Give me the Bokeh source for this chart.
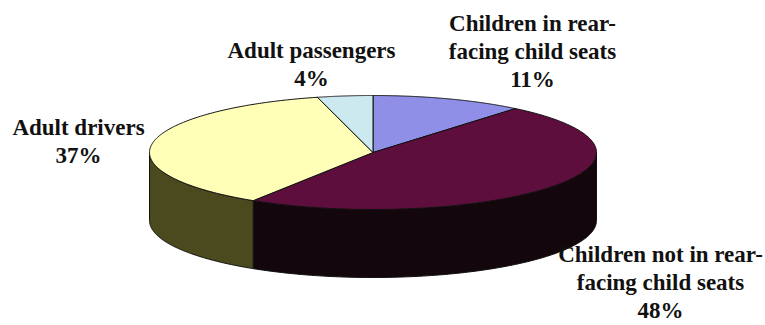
import numpy as np
from bokeh.plotting import figure
from bokeh.models import Range1d
from bokeh.core.properties import value
from bokeh.embed import file_html
from bokeh.resources import INLINE

# ---- data ----
categories = ["Children in rear-\nfacing child seats",
              "Children not in rear-\nfacing child seats",
              "Adult drivers",
              "Adult passengers"]
shares = [11, 48, 37, 4]

# ---- styles ----
top_colors = ["#8F8FE8", "#5E0E3C", "#FFFFB8", "#CCE9EF"]
side_colors = ["#4A4A80", "#14060D", "#4A4A1E", "#6E8A90"]

# ---- layout (pixel space) ----
W, H = 765, 325
cx, cy, ra, rb, depth = 372.5, 152, 223.5, 57, 68
label_anchor = [(532, 23), (660, 254), (78, 127), (311, 50)]
line_step = 28

p = figure(width=W, height=H, output_backend="svg", toolbar_location=None,
           x_range=Range1d(0, W), y_range=Range1d(H, 0), min_border=0)
p.axis.visible = False
p.grid.visible = False
p.outline_line_color = None
p.background_fill_color = "white"


def ellipse_pts(t):
    return cx + ra * np.sin(t), cy - rb * np.cos(t)


fracs = np.array(shares, dtype=float) / sum(shares)
edges = np.concatenate([[0], np.cumsum(fracs)]) * 2 * np.pi

# side walls (front half only)
for i in range(len(shares)):
    t1, t2 = max(edges[i], np.pi / 2), min(edges[i + 1], 3 * np.pi / 2)
    if t2 <= t1:
        continue
    t = np.linspace(t1, t2, 120)
    x, y = ellipse_pts(t)
    xs = np.concatenate([x, x[::-1]])
    ys = np.concatenate([y, (y + depth)[::-1]])
    p.patch(xs, ys, fill_color=side_colors[i], line_color="#111111", line_width=1)

# top faces
for i in range(len(shares)):
    t = np.linspace(edges[i], edges[i + 1], 200)
    x, y = ellipse_pts(t)
    xs = np.concatenate([[cx], x, [cx]])
    ys = np.concatenate([[cy], y, [cy]])
    p.patch(xs, ys, fill_color=top_colors[i], line_color="#111111", line_width=1)

# labels
tx, ty, tt = [], [], []
for (ax, ay), cat, v in zip(label_anchor, categories, shares):
    lines = cat.split("\n") + [f"{v}%"]
    for k, ln in enumerate(lines):
        tx.append(ax)
        ty.append(ay + k * line_step)
        tt.append(ln)
p.text(x=tx, y=ty, text=tt, text_align="center", text_baseline="alphabetic",
       text_font=value("Liberation Serif"), text_font_style="bold",
       text_font_size="23px", text_color="#111111")

open("out.html", "w").write(file_html(p, INLINE))
